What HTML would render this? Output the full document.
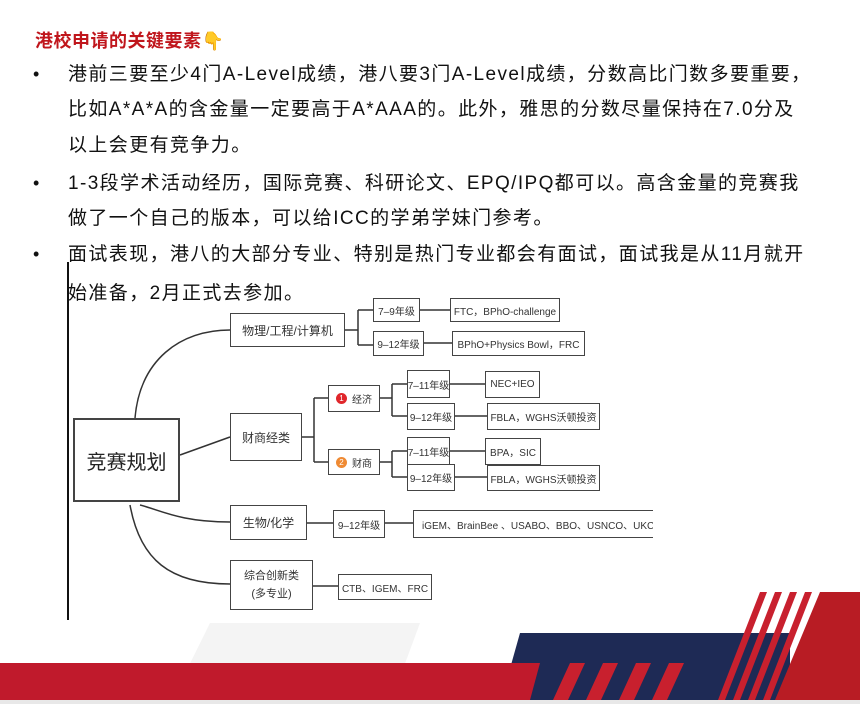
<!DOCTYPE html>
<html><head><meta charset="utf-8"><style>
*{margin:0;padding:0;box-sizing:border-box}
body{width:860px;height:704px;position:relative;background:#fff;overflow:hidden;font-family:"Liberation Sans","Noto Sans CJK SC",sans-serif;color:#111}
.t{position:absolute;left:68px;font-size:19px;letter-spacing:1.4px;white-space:nowrap;line-height:22px}
.b{position:absolute;left:33px;font-size:18px}
.bx{position:absolute;border:1.5px solid #444;background:#fff;font-size:10px;color:#333;display:flex;align-items:center;justify-content:center;white-space:nowrap;overflow:hidden}
</style></head><body>
<div style="position:absolute;left:35px;top:27px;font-size:18px;font-weight:bold;color:#c0161c;letter-spacing:0.5px">港校申请的关键要素<span style="color:#f2b33d">👇</span></div>
<div class="b" style="top:64px">•</div>
<div class="t" style="top:64px">港前三要至少4门A-Level成绩，港八要3门A-Level成绩，分数高比门数多要重要，</div>
<div class="t" style="top:99px">比如A*A*A的含金量一定要高于A*AAA的。此外，雅思的分数尽量保持在7.0分及</div>
<div class="t" style="top:135px">以上会更有竞争力。</div>
<div class="b" style="top:173px">•</div>
<div class="t" style="top:173px">1-3段学术活动经历，国际竞赛、科研论文、EPQ/IPQ都可以。高含金量的竞赛我</div>
<div class="t" style="top:208px">做了一个自己的版本，可以给ICC的学弟学妹门参考。</div>
<div class="b" style="top:244px">•</div>
<div class="t" style="top:244px">面试表现，港八的大部分专业、特别是热门专业都会有面试，面试我是从11月就开</div>
<div class="t" style="top:283px">始准备，2月正式去参加。</div>
<div style="position:absolute;left:67px;top:262px;width:2px;height:358px;background:#111"></div>
<svg style="position:absolute;left:0;top:0" width="860" height="704" fill="none" stroke="#333" stroke-width="1.5">
<path d="M135 418 C140 360,180 330,230 330"/>
<path d="M180 455 L230 437"/>
<path d="M140 505 C160 510,180 522,230 522"/>
<path d="M130 505 C140 560,170 584,230 584"/>
<path d="M345 330 H358 M358 310 V345 M358 310 H373 M358 345 H373 M420 310 H450 M424 343 H452"/>
<path d="M302 437 H314 M314 398 V462 M314 398 H328 M314 462 H328"/>
<path d="M380 398 H392 M392 384 V416 M392 384 H407 M392 416 H407 M450 384 H485 M455 416 H487"/>
<path d="M380 462 H392 M392 451 V477 M392 451 H407 M392 477 H407 M450 451 H485 M455 477 H487"/>
<path d="M307 523 H333 M385 523 H413 M313 586 H338"/>
</svg>
<div class="bx" style="left:73px;top:418px;width:107px;height:84px;font-size:20px;border-width:2px;color:#222">竞赛规划</div>
<div class="bx" style="left:230px;top:313px;width:115px;height:34px;font-size:12px">物理/工程/计算机</div>
<div class="bx" style="left:373px;top:298px;width:47px;height:24px">7–9年级</div>
<div class="bx" style="left:450px;top:298px;width:110px;height:24px">FTC，BPhO-challenge</div>
<div class="bx" style="left:373px;top:331px;width:51px;height:25px">9–12年级</div>
<div class="bx" style="left:452px;top:331px;width:133px;height:25px">BPhO+Physics Bowl，FRC</div>
<div class="bx" style="left:230px;top:413px;width:72px;height:48px;font-size:12px">财商经类</div>
<div class="bx" style="left:328px;top:385px;width:52px;height:27px"><span style="display:inline-block;width:11px;height:11px;border-radius:50%;background:#e0262b;color:#fff;font-size:8px;text-align:center;line-height:11px;margin-right:5px">1</span>经济</div>
<div class="bx" style="left:407px;top:370px;width:43px;height:28px">7–11年级</div>
<div class="bx" style="left:485px;top:371px;width:55px;height:27px">NEC+IEO</div>
<div class="bx" style="left:407px;top:403px;width:48px;height:27px">9–12年级</div>
<div class="bx" style="left:487px;top:403px;width:113px;height:27px">FBLA，WGHS沃顿投资</div>
<div class="bx" style="left:328px;top:449px;width:52px;height:26px"><span style="display:inline-block;width:11px;height:11px;border-radius:50%;background:#ef8a33;color:#fff;font-size:8px;text-align:center;line-height:11px;margin-right:5px">2</span>财商</div>
<div class="bx" style="left:407px;top:437px;width:43px;height:28px">7–11年级</div>
<div class="bx" style="left:485px;top:438px;width:56px;height:27px">BPA，SIC</div>
<div class="bx" style="left:407px;top:464px;width:48px;height:27px">9–12年级</div>
<div class="bx" style="left:487px;top:465px;width:113px;height:26px">FBLA，WGHS沃顿投资</div>
<div class="bx" style="left:230px;top:505px;width:77px;height:35px;font-size:12px">生物/化学</div>
<div class="bx" style="left:333px;top:510px;width:52px;height:28px">9–12年级</div>
<div class="bx" style="left:413px;top:510px;width:240px;height:28px;justify-content:flex-start;padding-left:8px;border-right:none">iGEM、BrainBee 、USABO、BBO、USNCO、UKChO</div>
<div class="bx" style="left:230px;top:560px;width:83px;height:50px;font-size:11px;flex-direction:column;line-height:18px">综合创新类<span>(多专业)</span></div>
<div class="bx" style="left:338px;top:574px;width:94px;height:26px">CTB、IGEM、FRC</div>
<svg style="position:absolute;left:0;top:0" width="860" height="704">
<polygon points="210,623 420,623 390,704 170,704" fill="#f4f4f4"/>
<polygon points="520,633 790,633 790,704 500,704" fill="#1e2a55"/>
<polygon points="0,663 540,663 530,700 0,700" fill="#c01a2c"/>
<polygon points="820,592 860,592 860,700 775,700" fill="#b81c24"/>
<g fill="#c8202e">
<polygon points="570,663 585,663 568,700 553,700"/>
<polygon points="603,663 618,663 601,700 586,700"/>
<polygon points="636,663 651,663 634,700 619,700"/>
<polygon points="669,663 684,663 667,700 652,700"/>
<polygon points="760,592 767,592 725,700 718,700"/>
<polygon points="775,592 782,592 740,700 733,700"/>
<polygon points="790,592 797,592 755,700 748,700"/>
<polygon points="805,592 812,592 770,700 763,700"/>
</g>
<rect x="0" y="700" width="860" height="4" fill="#e8e8e8"/>
</svg>
</body></html>
